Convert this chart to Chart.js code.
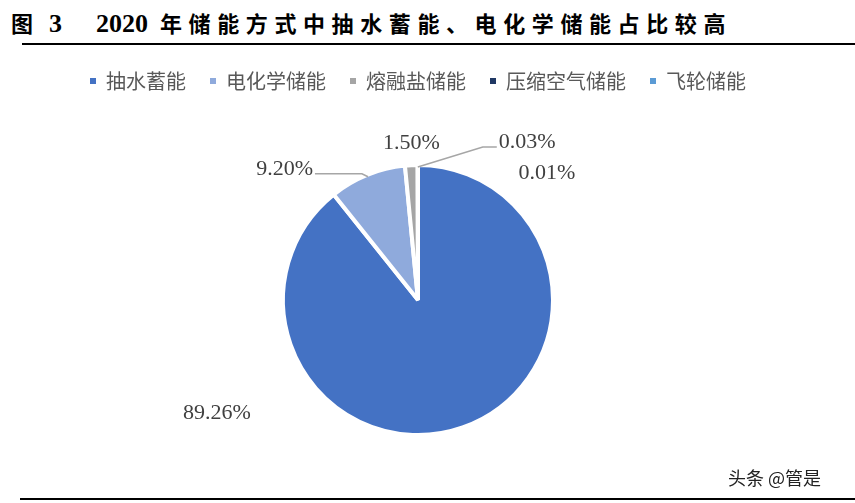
<!DOCTYPE html>
<html>
<head>
<meta charset="utf-8">
<script src="https://cdn.jsdelivr.net/npm/chart.js@4"></script>
<style>
  html, body { margin: 0; padding: 0; background: #fff; }
  #wrap { position: relative; width: 855px; height: 503px; overflow: hidden; }
  #chart { position: absolute; left: 0; top: 0; }
  .title {
    position: absolute; left: 11px; top: 9px; white-space: nowrap;
    font-family: "Noto Sans CJK SC", sans-serif; font-weight: 700; font-size: 22px;
    line-height: 26px; color: #000;
  }
  .title .num { font-family: "Liberation Serif", serif; font-size: 26px; font-weight: 700; letter-spacing: 0; }
  .title .cn { letter-spacing: 6.6px; }
  .rule { position: absolute; height: 2px; background: #000; }
  .mark {
    position: absolute; left: 728px; top: 464px; white-space: nowrap;
    font-family: "Noto Sans CJK SC", sans-serif; font-size: 18px; color: #222;
  }
</style>
</head>
<body>
<div id="wrap">
  <div class="title"><span>图</span><span class="num" style="margin-left:16px">3</span><span class="num" style="margin-left:34px">2020</span><span class="cn" style="margin-left:12px">年储能方式中抽水蓄能、电化学储能占比较高</span></div>
  <div class="rule" style="left:22px; top:43px; width:833px;"></div>
  <canvas id="chart" width="855" height="503"></canvas>
  <div class="mark">头条 @管是</div>
  <div class="rule" style="left:20px; top:498px; width:835px;"></div>
</div>
<script>
// storage technology share in 2020
const categories = ["抽水蓄能", "电化学储能", "熔融盐储能", "压缩空气储能", "飞轮储能"];
const shares = [89.26, 9.20, 1.50, 0.03, 0.01];
const shareLabels = ["89.26%", "9.20%", "1.50%", "0.03%", "0.01%"];
const colors = ["#4472C4", "#8FAADC", "#A5A5A5", "#203864", "#5B9BD5"];

// where each label sits relative to the outer edge of its slice (Excel-like placement)
const labelLayout = [
  { dx: -245, dy: -12, align: "center" },
  { dx: -55, dy: -8, align: "right", leader: [[-6, -3], [-53, -3]] },
  { dx: 0, dy: -24, align: "center" },
  { dx: 81, dy: -25, align: "left", leader: [[65, -20], [79, -20]] },
  { dx: 129, dy: 6, align: "center" },
];

const pieLabels = {
  id: "pieLabels",
  afterDraw(chart) {
    const ctx = chart.ctx;
    const meta = chart.getDatasetMeta(0);
    ctx.save();
    ctx.font = "22px 'Liberation Serif', serif";
    ctx.fillStyle = "#404040";
    ctx.textBaseline = "middle";
    meta.data.forEach((arc, i) => {
      const p = arc.getProps(["x", "y", "startAngle", "endAngle", "outerRadius"], true);
      const mid = (p.startAngle + p.endAngle) / 2;
      const r = p.outerRadius - 2;
      const ax = p.x + Math.cos(mid) * r;
      const ay = p.y + Math.sin(mid) * r;
      const lay = labelLayout[i];
      if (lay.leader) {
        ctx.beginPath();
        ctx.strokeStyle = "#A6A6A6";
        ctx.lineWidth = 1.5;
        ctx.moveTo(ax, ay);
        lay.leader.forEach(pt => ctx.lineTo(ax + pt[0], ay + pt[1]));
        ctx.stroke();
      }
      ctx.textAlign = lay.align;
      ctx.fillText(shareLabels[i], ax + lay.dx, ay + lay.dy);
    });
    ctx.restore();
  }
};

new Chart(document.getElementById("chart").getContext("2d"), {
  type: "pie",
  data: {
    labels: categories,
    datasets: [{
      data: shares,
      backgroundColor: colors,
      borderColor: "#ffffff",
      borderWidth: 4,
    }],
  },
  options: {
    responsive: false,
    animation: false,
    radius: 135,
    layout: { padding: { top: 47, right: 19, bottom: 4, left: 0 } },
    plugins: {
      legend: {
        position: "top",
        labels: {
          boxWidth: 6,
          boxHeight: 6,
          padding: 24,
          color: "#595959",
          font: { family: "'Noto Sans CJK SC', sans-serif", size: 20 },
          // solid squares, no white slice border around the swatch
          generateLabels: (chart) =>
            Chart.overrides.pie.plugins.legend.labels.generateLabels(chart)
              .map(item => ({ ...item, lineWidth: 0, strokeStyle: item.fillStyle })),
        },
      },
      tooltip: { enabled: false },
    },
  },
  plugins: [pieLabels],
});
</script>
</body>
</html>
